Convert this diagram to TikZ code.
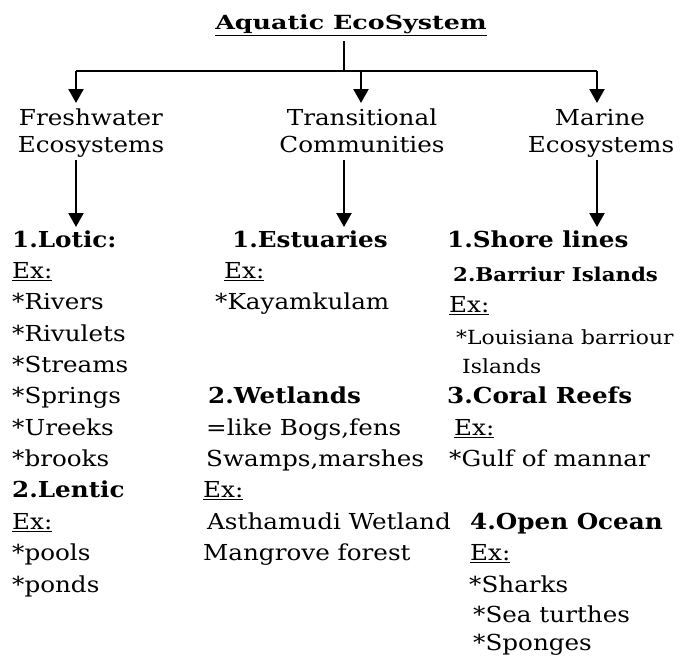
\documentclass[tikz,border=0pt]{standalone}
\usepackage{fontspec}
\setmainfont{DejaVu Serif}[FakeStretch=1.12]
\newfontfamily\titlefont{DejaVu Serif}[FakeStretch=1.3]
\usetikzlibrary{arrows.meta}
\newcommand\fsnorm{\fontsize{22}{26}\selectfont}
\newcommand\fsbold{\fontsize{22}{26}\selectfont\bfseries}
\newcommand\fstitle{\titlefont\fontsize{19.5}{23}\selectfont\bfseries}
\newcommand\fssmall{\fontsize{19.5}{23}\selectfont}
\newcommand\fssmallbold{\fontsize{19}{23}\selectfont\bfseries}
\begin{document}
\begin{tikzpicture}[x=1pt,y=-1pt,
  txt/.style={inner sep=0pt, anchor=base west, font=\fsnorm},
  bld/.style={inner sep=0pt, anchor=base west, font=\fsbold},
  smtxt/.style={inner sep=0pt, anchor=base west, font=\fssmall},
  smbld/.style={inner sep=0pt, anchor=base west, font=\fssmallbold},
  head/.style={inner sep=0pt, anchor=base, font=\fsnorm, align=center},
  conn/.style={line width=2.2pt},
  thinconn/.style={line width=1.6pt},
  arr/.style={line width=2.2pt, -{Triangle[width=15pt,length=14pt]}}]
\useasboundingbox (0,0) rectangle (694,659);
\fill[white] (0,0) rectangle (694,659);

% title
\node[inner sep=0pt, anchor=base, font=\fstitle] (title) at (351,29) {\underline{Aquatic EcoSystem}};
\coordinate (tj) at (344,41);
\coordinate (j) at (344,71);
\coordinate (bl) at (76,71);
\coordinate (bm) at (361,71);
\coordinate (br) at (597,71);
\draw[thinconn] (tj) -- (j);
\draw[conn] (bl) -- (br);

% second level
\node[head] (fw1) at (91,125) {Freshwater};
\node[head] (fw2) at (91,152) {Ecosystems};
\node[head] (tr1) at (362,125) {Transitional};
\node[head] (tr2) at (362,152) {Communities};
\node[head] (ma1) at (600,125) {Marine};
\node[head] (ma2) at (601,152) {Ecosystems};

\coordinate (fwt) at (76,103);
\coordinate (trt) at (361,103);
\coordinate (mat) at (597,103);
\draw[arr] (bl) -- (fwt);
\draw[arr] (bm) -- (trt);
\draw[arr] (br) -- (mat);

\coordinate (fwb) at (76,160);
\coordinate (trb) at (344,160);
\coordinate (mab) at (597,160);
\coordinate (fwe) at (76,227);
\coordinate (tre) at (344,227);
\coordinate (mae) at (597,227);
\draw[arr] (fwb) -- (fwe);
\draw[arr] (trb) -- (tre);
\draw[arr] (mab) -- (mae);

% left column
\node[bld] (l1) at (12,247) {1.Lotic:};
\node[txt] (l2) at (12,278.4) {\underline{Ex:}};
\node[txt] (l3) at (12,309.7) {*Rivers};
\node[txt] (l4) at (12,341) {*Rivulets};
\node[txt] (l5) at (12,372.4) {*Streams};
\node[txt] (l6) at (12,403.8) {*Springs};
\node[txt] (l7) at (12,435) {*Ureeks};
\node[txt] (l8) at (12,466.5) {*brooks};
\node[bld] (l9) at (12,497.9) {2.Lentic};
\node[txt] (l10) at (12,529.2) {\underline{Ex:}};
\node[txt] (l11) at (12,560.6) {*pools};
\node[txt] (l12) at (12,592) {*ponds};

% middle column
\node[bld] (m1) at (232,247) {1.Estuaries};
\node[txt] (m2) at (224,278.4) {\underline{Ex:}};
\node[txt] (m3) at (215,309.7) {*Kayamkulam};
\node[bld] (m4) at (208,403.8) {2.Wetlands};
\node[txt] (m5) at (206,435) {=like Bogs,fens};
\node[txt] (m6) at (206,466.5) {Swamps,marshes};
\node[txt] (m7) at (203,497.9) {\underline{Ex:}};
\node[txt] (m8) at (207,529.2) {Asthamudi Wetland};
\node[txt] (m9) at (203,560.6) {Mangrove forest};

% right column
\node[bld] (r1) at (447,247) {1.Shore lines};
\node[smbld] (r2) at (453,281) {2.Barriur Islands};
\node[txt] (r3) at (449,312) {\underline{Ex:}};
\node[smtxt] (r4) at (456,344) {*Louisiana barriour};
\node[smtxt] (r5) at (462,373) {Islands};
\node[bld] (r6) at (447,403.8) {3.Coral Reefs};
\node[txt] (r7) at (454,435) {\underline{Ex:}};
\node[txt] (r8) at (449,466.5) {*Gulf of mannar};
\node[bld] (r9) at (470,529.2) {4.Open Ocean};
\node[txt] (r10) at (470,560.6) {\underline{Ex:}};
\node[txt] (r11) at (469,592) {*Sharks};
\node[txt] (r12) at (473,622) {*Sea turthes};
\node[txt] (r13) at (473,650) {*Sponges};
\end{tikzpicture}
\end{document}
